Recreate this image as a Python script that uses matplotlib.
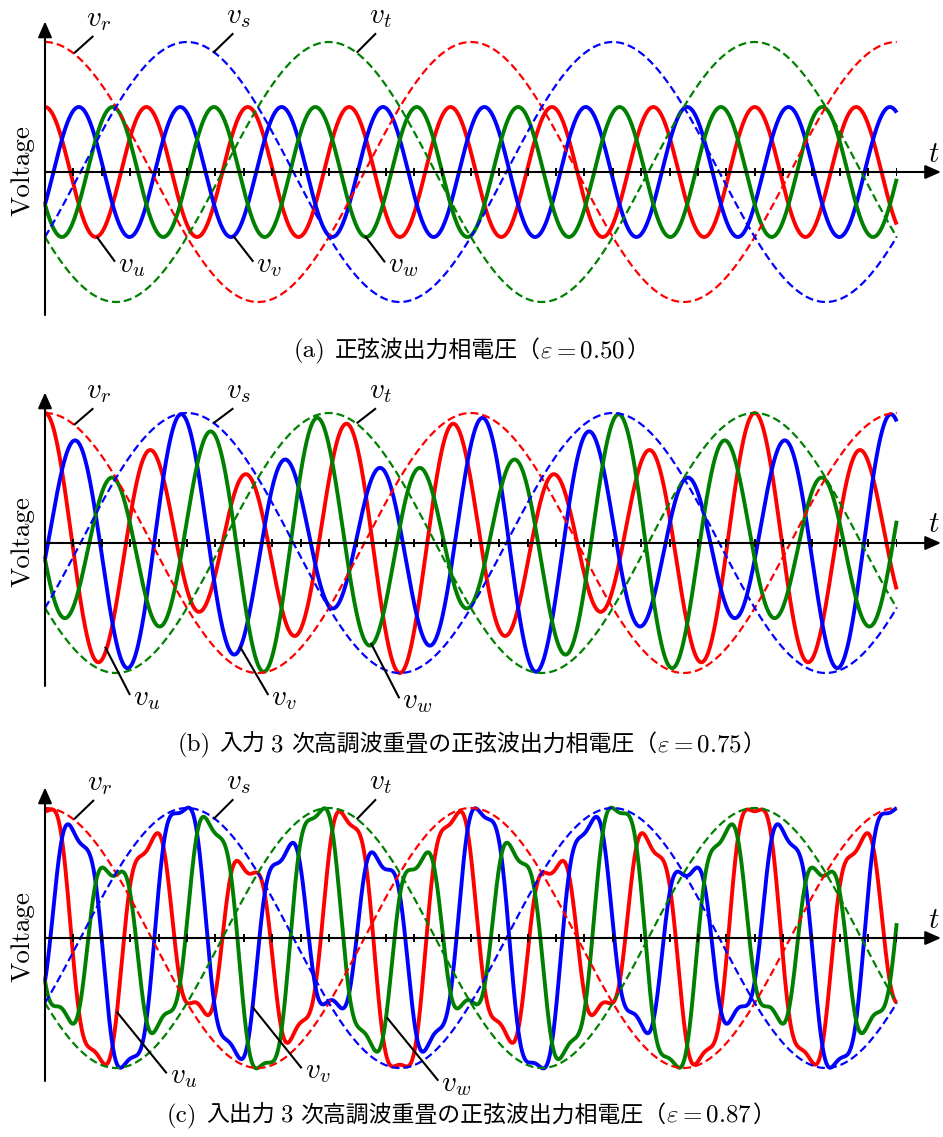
import numpy as np
import matplotlib
matplotlib.use("Agg")
import matplotlib.pyplot as plt

plt.rcParams['mathtext.fontset'] = 'cm'

# ---------------- data ----------------
input_cycles = 2.0              # time span shown, in input periods
freq_ratio = 4.2                # output frequency / input frequency
epsilons = [0.50, 0.75, 0.87]   # output amplitude ratio per panel
input_h3 = [0.0, 0.25, 0.25]    # input 3rd-harmonic (common mode) amplitude
output_h3 = [0.0, 0.0, 1 / 6]   # output 3rd-harmonic ratio (of epsilon)
n_ticks = 30                    # small ticks on the time axis
in_names = ['r', 's', 't']
out_names = ['u', 'v', 'w']
colors = ['#ff0000', '#0000ff', '#008000']
captions = [
    [("(a)", 'L', 0), ("正弦波出力相電圧（", 'J', 9), (r"$\varepsilon = 0.50$", 'M', 0), ("）", 'J', 1)],
    [("(b)", 'L', 0), ("入力", 'J', 9), ("3", 'L', 6), ("次高調波重畳の正弦波出力相電圧（", 'J', 7),
     (r"$\varepsilon = 0.75$", 'M', 0), ("）", 'J', 1)],
    [("(c)", 'L', 0), ("入出力", 'J', 9), ("3", 'L', 6), ("次高調波重畳の正弦波出力相電圧（", 'J', 7),
     (r"$\varepsilon = 0.87$", 'M', 0), ("）", 'J', 1)],
]

# ---------------- layout (pixels) ----------------
W, H = 943, 1137
axis_y = [172, 543, 938]
x0, x_end = 45, 896.7
unit = 130.0
px_per_t = (x_end - x0) / input_cycles
caption_base = [357, 751, 1122]

# leader lines (start, end) per panel: r, s, t (top) and u, v, w (bottom)
leaders = [
    {'r': ((74, 53.3), (93.3, 36)), 's': ((213.3, 52.7), (233.3, 33.3)), 't': ((356.7, 52.7), (376, 33.3)),
     'u': ((96.7, 236.7), (115, 261.7)), 'v': ((233.3, 236), (253.3, 261.7)), 'w': ((365, 236), (385, 262.3))},
    {'r': ((74, 425), (93.3, 408.3)), 's': ((213.3, 423.3), (233.3, 408.3)), 't': ((356.7, 423.3), (376, 408.3)),
     'u': ((105, 646.7), (130, 695)), 'v': ((240, 646.7), (268.3, 695)), 'w': ((370.7, 642.7), (399.3, 698.3))},
    {'r': ((74, 819.3), (94, 800)), 's': ((213.3, 819.3), (233.3, 799.3)), 't': ((356.7, 819.3), (376, 799.3)),
     'u': ((116.7, 1011.7), (166.7, 1073.3)), 'v': ((252.3, 1006.7), (301.7, 1068.3)),
     'w': ((386.7, 1017.3), (438.3, 1080.7))},
]

fig = plt.figure(figsize=(W / 100, H / 100), dpi=100)
fig.patch.set_facecolor('white')

t = np.linspace(0, input_cycles, 4000)
th_i = 2 * np.pi * t
th_o = 2 * np.pi * freq_ratio * t

for i, ay in enumerate(axis_y):
    top, bot = 152, 145
    ax = fig.add_axes([x0 / W, 1 - (ay + bot) / H, (x_end - x0) / W, (top + bot) / H])
    ax.set_xlim(0, input_cycles)
    ax.set_ylim(-bot / unit, top / unit)
    ax.axis('off')
    eps = epsilons[i]
    cm = input_h3[i] * np.cos(3 * th_i) - eps * output_h3[i] * np.cos(3 * th_o)
    for k in range(3):
        vo = eps * np.cos(th_o - 2 * np.pi * k / 3) + cm
        ax.plot(t, vo, color=colors[k], lw=2.8, solid_capstyle='butt', zorder=3 + k * 0.1, clip_on=False)
    for k in range(3):
        vi = np.cos(th_i - 2 * np.pi * k / 3)
        ax.plot(t, vi, color=colors[k], lw=1.6, linestyle=(0, (3.6, 1.8)), zorder=4, clip_on=False)
    # axes with arrows
    aprops = dict(arrowstyle='-|>,head_length=0.95,head_width=0.42', mutation_scale=10,
                  lw=1.5, color='k', shrinkA=0, shrinkB=0)
    ax.annotate('', xy=((941 - x0) / px_per_t, 0), xytext=(0, 0), arrowprops=aprops,
                annotation_clip=False, zorder=5)
    ax.annotate('', xy=(0, 150.5 / unit), xytext=(0, -143 / unit), arrowprops=aprops,
                annotation_clip=False, zorder=5)
    ticks = np.arange(1, n_ticks + 1) * input_cycles / n_ticks
    ax.vlines(ticks, -4 / unit, 4 / unit, color='k', lw=1.4, zorder=5)

# overlay in pixel coordinates for labels
ov = fig.add_axes([0, 0, 1, 1], zorder=10)
ov.set_xlim(0, W)
ov.set_ylim(H, 0)
ov.axis('off')
ov.patch.set_visible(False)

for i, ay in enumerate(axis_y):
    ov.text(23, ay - 1, 'Voltage', rotation=90, ha='center', va='center', family='cmr10', fontsize=19.5)
    ov.text(934, ay - 10.5, r'$t$', ha='center', va='baseline', fontsize=21)
    for name, ((xa, ya), (xb, yb)) in leaders[i].items():
        ov.plot([xa, xb], [ya, yb], color='k', lw=1.5, solid_capstyle='butt')
        if name in in_names:
            ov.text(xb - 7, yb - 10, r'$v_{%s}$' % name, ha='left', va='baseline', fontsize=21)
        else:
            ov.text(xb + 3, yb + 10, r'$v_{%s}$' % name, ha='left', va='baseline', fontsize=21)

# captions built from pieces
renderer = fig.canvas.get_renderer()
styles = {
    'L': dict(family='cmr10', fontsize=18),
    'J': dict(family=['Noto Sans CJK JP', 'DejaVu Sans'], fontsize=16.5),
    'M': dict(fontsize=18),
}
for i, pieces in enumerate(captions):
    arts = []
    for s, st, gap in pieces:
        txt = ov.text(0, caption_base[i], s, ha='left', va='baseline', **styles[st])
        arts.append((txt, gap))
    widths = [a.get_window_extent(renderer=renderer).width for a, _ in arts]
    total = sum(widths) + sum(g for _, g in arts)
    x = W / 2 - total / 2
    for (a, g), w in zip(arts, widths):
        x += g
        a.set_x(x)
        x += w

fig.savefig('out.png', dpi=100, facecolor='white')
